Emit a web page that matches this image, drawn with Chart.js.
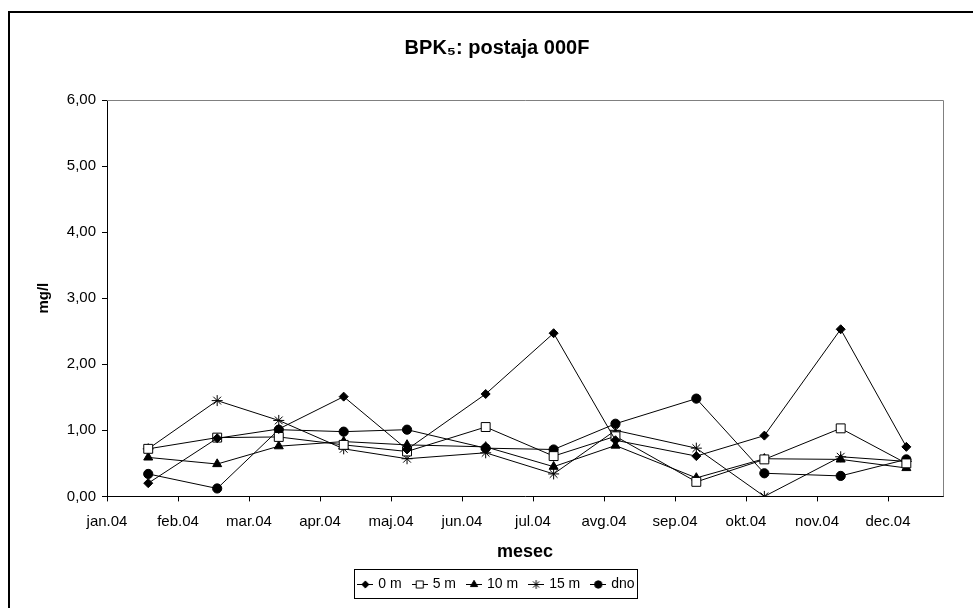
<!DOCTYPE html>
<html>
<head>
<meta charset="utf-8">
<script src="https://cdn.jsdelivr.net/npm/chart.js@4/dist/chart.umd.min.js"></script>
<style>
body{margin:0;background:#fff;}
#wrap{width:973px;height:608px;}
</style>
</head>
<body>
<div id="wrap"><canvas id="myChart" width="973" height="608"></canvas></div>
<script>
// month tick labels
var monthLabels=['jan.04','feb.04','mar.04','apr.04','maj.04','jun.04','jul.04','avg.04','sep.04','okt.04','nov.04','dec.04'];
// sampling dates
var sampleDates=['2004-01-19','2004-02-17','2004-03-14','2004-04-11','2004-05-08','2004-06-11','2004-07-10','2004-08-06','2004-09-10','2004-10-09','2004-11-11','2004-12-09'];
var axisEndDate='2004-12-25';
// mg/l
var depth0=[0.20,0.88,1.02,1.51,0.71,1.55,2.47,0.85,0.61,0.92,2.53,0.75];
var depth5=[0.72,0.89,0.90,0.78,0.68,1.05,0.61,0.91,0.22,0.56,1.03,0.50];
var depth10=[0.59,0.49,0.76,0.83,0.78,0.75,0.45,0.77,0.28,0.57,0.56,0.43];
var depth15=[0.72,1.45,1.15,0.72,0.57,0.66,0.34,1.00,0.73,0.00,0.60,0.53];
var depthDno=[0.34,0.12,1.01,0.98,1.01,0.73,0.71,1.10,1.48,0.35,0.31,0.56];
var seriesNames=['0 m','5 m','10 m','15 m','dno'];

function monthPos(s)
{
    var p=s.split('-');
    var m=parseInt(p[1],10)-1;
    var d=parseInt(p[2],10);
    var dim=new Date(2004,m+1,0).getDate();
    return m+(d-1)/dim;
}
var xPos=sampleDates.map(monthPos);
function pts(vals)
{
    return vals.map(function(v,i){return {x:xPos[i],y:v};});
}

var styles=[
    {pointStyle:'rectRot',radius:4.5,fill:'#000'},
    {pointStyle:'rect',radius:6.3,fill:'#fff'},
    {pointStyle:'triangle',radius:5.2,fill:'#000'},
    {pointStyle:'star',radius:5.5,fill:'#000'},
    {pointStyle:'circle',radius:4.6,fill:'#000'}
];

// small legend icons: line with marker in the middle
var legendIcons=styles.map(function(st){
    var c=document.createElement('canvas');
    c.width=16;c.height=12;
    var g=c.getContext('2d');
    g.strokeStyle='#000';g.lineWidth=1;
    g.beginPath();g.moveTo(0,6.5);g.lineTo(16,6.5);g.stroke();
    g.fillStyle=st.fill;
    Chart.helpers.drawPoint(g,{pointStyle:st.pointStyle,radius:st.radius*0.8,borderWidth:1,rotation:0},8,6.5);
    return c;
});

var allData=[depth0,depth5,depth10,depth15,depthDno];
var datasets=allData.map(function(vals,i){
    return {
        label:seriesNames[i],
        data:pts(vals),
        borderColor:'#000',
        borderWidth:1,
        backgroundColor:styles[i].fill,
        pointStyle:styles[i].pointStyle,
        pointRadius:styles[i].radius,
        pointBorderColor:'#000',
        pointBackgroundColor:styles[i].fill,
        pointBorderWidth:1,
        fill:false,
        tension:0
    };
});

var framePlugin={
    id:'frame',
    beforeDatasetsDraw:function(chart){
        var ctx=chart.ctx,a=chart.chartArea;
        ctx.save();
        ctx.strokeStyle='#808080';
        ctx.lineWidth=1;
        ctx.beginPath();
        ctx.moveTo(a.left,Math.round(a.top)+0.5);
        ctx.lineTo(Math.round(a.right)+0.5,Math.round(a.top)+0.5);
        ctx.lineTo(Math.round(a.right)+0.5,a.bottom);
        ctx.stroke();
        ctx.restore();
    },
    afterDraw:function(chart){
        var ctx=chart.ctx;
        ctx.save();
        ctx.strokeStyle='#000';
        ctx.lineWidth=2;
        ctx.beginPath();
        ctx.moveTo(9,608);ctx.lineTo(9,12);ctx.lineTo(973,12);
        ctx.stroke();
        var boxes=chart.legend.legendHitBoxes;
        if(boxes&&boxes.length)
        {
            var l=Infinity,r=-Infinity,t=Infinity,b=-Infinity;
            boxes.forEach(function(h){
                l=Math.min(l,h.left);r=Math.max(r,h.left+h.width);
                t=Math.min(t,h.top);b=Math.max(b,h.top+h.height);
            });
            ctx.lineWidth=1;
            ctx.strokeRect(Math.round(l-5)+0.5,Math.round(t-8)+0.5,Math.round(r-l+8),Math.round(b-t+15));
        }
        ctx.restore();
    }
};

Chart.defaults.font.family='"Liberation Sans", Arial, sans-serif';
Chart.defaults.color='#000';

new Chart('myChart',{
    type:'line',
    data:{datasets:datasets},
    plugins:[framePlugin],
    options:{
        responsive:false,
        animation:false,
        layout:{padding:{left:9,right:-12,top:0,bottom:7}},
        plugins:{
            title:{
                display:true,
                text:'BPK\u2085: postaja 000F',
                font:{size:20,weight:'bold'},
                padding:{top:36,bottom:40}
            },
            legend:{
                position:'bottom',
                labels:{
                    usePointStyle:true,
                    pointStyleWidth:12,
                    font:{size:14},
                    padding:12,
                    color:'#000',
                    generateLabels:function(chart){
                        var items=Chart.defaults.plugins.legend.labels.generateLabels(chart);
                        items.forEach(function(it,i){it.pointStyle=legendIcons[i];});
                        return items;
                    }
                }
            },
            tooltip:{enabled:false}
        },
        scales:{
            x:{
                type:'linear',
                min:0,
                max:monthPos(axisEndDate),
                border:{color:'#000',width:1},
                grid:{drawOnChartArea:false,color:'#000',tickLength:5},
                ticks:{
                    stepSize:1,
                    includeBounds:false,
                    autoSkip:false,
                    maxRotation:0,
                    padding:11,
                    font:{size:15},
                    callback:function(v){return (Number.isInteger(v)&&v<monthLabels.length)?monthLabels[v]:'';}
                },
                title:{display:true,text:'mesec',font:{size:18,weight:'bold'},padding:{top:0,bottom:2}}
            },
            y:{
                min:0,
                max:6,
                border:{color:'#000',width:1},
                grid:{drawOnChartArea:false,color:'#000',tickLength:5},
                ticks:{
                    stepSize:1,
                    padding:6,
                    font:{size:15},
                    callback:function(v){return v.toFixed(2).replace('.',',');}
                },
                title:{display:true,text:'mg/l',font:{size:15,weight:'bold'},padding:{top:26,bottom:0}},
                afterFit:function(scale){scale.width=98;}
            },
            // empty spacer on the right so the plot ends where the reference does
            spacer:{
                axis:'y',
                position:'right',
                display:true,
                ticks:{display:false},
                grid:{display:false},
                border:{display:false},
                afterFit:function(scale){scale.width=42;}
            }
        }
    }
});
</script>
</body>
</html>
